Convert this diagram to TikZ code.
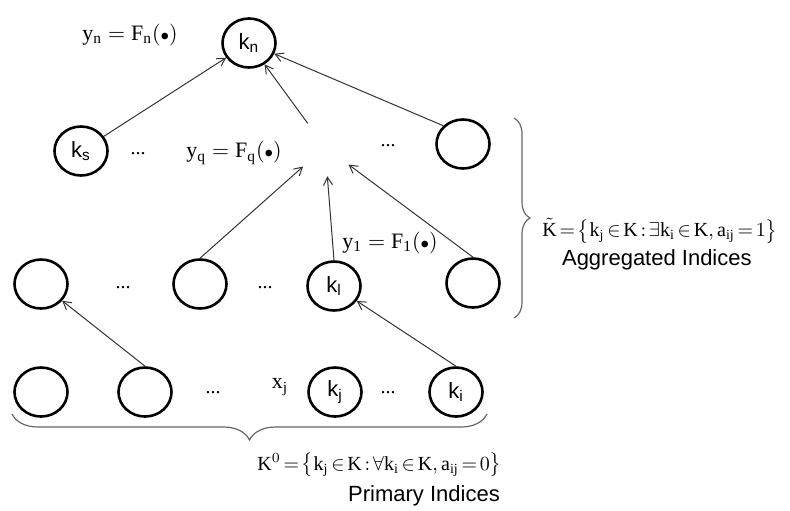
\documentclass[tikz,border=0pt]{standalone}
\usepackage{fontspec}
\setmainfont{Liberation Serif}
\setsansfont{Liberation Sans}
\usetikzlibrary{shapes.geometric,arrows.meta,decorations.pathreplacing}

\newcommand{\argdot}{{\scriptstyle\bullet}}
\newcommand{\tightmath}{\thickmuskip=2.5mu\relax\medmuskip=1.5mu\relax}

\begin{document}
\begin{tikzpicture}[
    x=0.5pt, y=-0.5pt,
    >={Straight Barb[length=4pt,width=4.5pt]},
    idx/.style={
        draw=black,
        ellipse,
        line width=1.3pt,
        minimum width=26.5pt,
        minimum height=24.5pt,
        inner sep=0pt,
        font=\sffamily\fontsize{11}{13}\selectfont
    },
    hidden/.style={
        idx,
        draw=none,
        minimum width=28pt,
        minimum height=28pt
    },
    arrow/.style={
        ->,
        line width=0.5pt,
        draw=black!80
    },
    formula/.style={
        inner sep=1pt,
        font=\fontsize{11}{13}\selectfont
    },
    setdef/.style={
        inner sep=0pt,
        anchor=west,
        font=\fontsize{10}{12}\selectfont\tightmath
    },
    label/.style={font=\sffamily\fontsize{11}{13}\selectfont},
    dots/.style={anchor=base, font=\fontsize{10}{12}\selectfont},
    bracket/.style={
        decorate,
        line width=0.6pt,
        draw=black!60
    }
]

    \useasboundingbox (0,0) rectangle (790,510);

    % top
    \node[idx] (kn) at (249,43) {$\mathsf{k_n}$};
    \node[formula] (yn) at (130,35) {$\mathrm{y_n = F_n(\argdot)}$};

    % aggregated level
    \node[idx] (ks) at (81,151) {$\mathsf{k_s}$};
    \node[hidden] (kq) at (325,147) {};
    \node[idx] (kr) at (463,144) {};
    \node[formula] (yq) at (234,153) {$\mathrm{y_q = F_q(\argdot)}$};
    \node[dots] (d1) at (138,154) {...};
    \node[dots] (d2) at (388,146) {...};

    % middle level
    \node[idx] (m1) at (41,284) {};
    \node[idx] (m2) at (200,284) {};
    \node[idx] (kl) at (334,286) {$\mathsf{k_l}$};
    \node[idx] (m4) at (473,283) {};
    \node[formula] (y1) at (390,243) {$\mathrm{y_1 = F_1(\argdot)}$};
    \node[dots] (d3) at (123,288) {...};
    \node[dots] (d4) at (265,288) {...};

    % primary level
    \node[idx] (p1) at (41,392) {};
    \node[idx] (p2) at (145,392) {};
    \node[idx] (kj) at (335,392) {$\mathsf{k_j}$};
    \node[idx] (ki) at (456,392) {$\mathsf{k_i}$};
    \node[formula] (xj) at (280,387) {$\mathrm{x_j}$};
    \node[dots] (d5) at (213,393) {...};
    \node[dots] (d6) at (388,393) {...};

    % links
    \draw[arrow] (ks) -- (kn);
    \draw[arrow] (kq) -- (kn);
    \draw[arrow] (kr.north west) -- (kn);
    \draw[arrow] (m2.north) -- (kq);
    \draw[arrow] (kl.north) -- (kq);
    \draw[arrow] (m4.north) -- (kq);
    \draw[arrow] (p2.north) -- (m1);
    \draw[arrow] (ki.north) -- (kl);

    % braces
    \draw[bracket, decoration={brace, amplitude=8pt}]
        (514,118) -- (514,318);
    \draw[bracket, decoration={brace, amplitude=13pt}]
        (487,414) -- (12,414);

    \node[setdef] (kt) at (542,231)
        {$\tilde{\mathrm{K}} = \bigl\{\mathrm{k_j} \in \mathrm{K} : \exists\mathrm{k_i} \in \mathrm{K}, \mathrm{a_{ij}} = 1\bigr\}$};
    \node[label, anchor=west] (agg) at (555,260) {Aggregated Indices};

    \node[setdef] (k0) at (257,465)
        {$\mathrm{K}^0 = \bigl\{\mathrm{k_j} \in \mathrm{K} : \forall\mathrm{k_i} \in \mathrm{K}, \mathrm{a_{ij}} = 0\bigr\}$};
    \node[label] (prim) at (424,496) {Primary Indices};

\end{tikzpicture}
\end{document}
